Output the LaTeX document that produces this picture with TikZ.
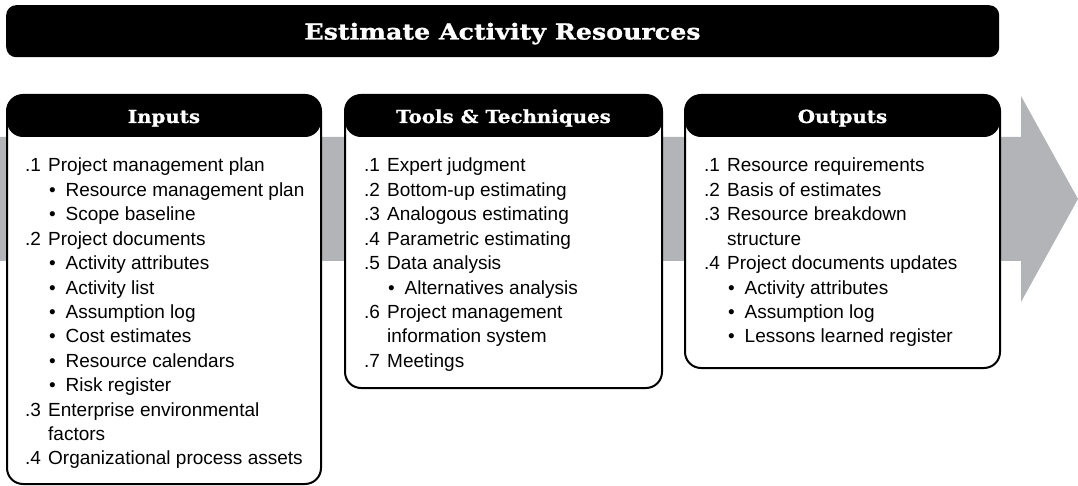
\documentclass[tikz,border=0pt]{standalone}
\usepackage{fontspec}
\setmainfont{Liberation Sans}
\newfontfamily\slabtitle{DejaVu Serif}[FakeStretch=1.15,BoldFeatures={FakeBold=1.2}]
\newfontfamily\slabhdr{DejaVu Serif}[FakeStretch=1.1,BoldFeatures={FakeBold=1}]
\definecolor{arrowgray}{RGB}{178,180,183}
\newcommand\mkline[3]{\ifnum#1=0 \makebox[23pt][l]{#2}#3\else\ifnum#1=1 \hspace*{24pt}\makebox[16.5pt][l]{\textbullet}#3\else\hspace*{23pt}#3\fi\fi}
\tikzset{
  panel/.style={draw=black, line width=2pt, fill=white, rounded corners=16pt,
    inner sep=0pt, outer sep=0pt, anchor=north west,
    path picture={\fill[black] (path picture bounding box.north west) rectangle ([yshift=-42pt]path picture bounding box.north east);}},
  hdr/.style={text=white, font=\slabhdr\bfseries\fontsize{18}{22}\selectfont, anchor=base, inner sep=0pt},
  txt/.style={font=\fontsize{19}{24.4}\selectfont, anchor=base west, inner sep=0pt},
}
\begin{document}
\begin{tikzpicture}[x=1pt,y=-1pt]
\useasboundingbox (0,0) rectangle (1078,486);
% gray flow arrow
\fill[arrowgray] (0,137) -- (1021,137) -- (1021,96) -- (1078,199) -- (1021,302) -- (1021,261) -- (0,261) -- cycle;
% title bar
\node[fill=black, rounded corners=10pt, minimum width=993pt, minimum height=52pt, inner sep=0pt, anchor=north west] (title) at (6,5) {};
\node[text=white, font=\slabtitle\bfseries\fontsize{22}{26}\selectfont, anchor=base, inner sep=0pt] (titletext) at (502.5,39.5) {Estimate Activity Resources};
% panels
\node[panel, minimum width=314pt, minimum height=389pt] (inbox) at (7,95) {};
\node[panel, minimum width=317pt, minimum height=293pt] (toolbox) at (345,95) {};
\node[panel, minimum width=315pt, minimum height=273pt] (outbox) at (685,95) {};
\node[hdr] (inh) at (164,123) {Inputs};
\node[hdr] (toolh) at (503.5,123) {Tools \& Techniques};
\node[hdr] (outh) at (842.5,123) {Outputs};
% inputs
\foreach \k/\a/\b [count=\i from 0] in {
  0/.1/Project management plan,
  1//Resource management plan,
  1//Scope baseline,
  0/.2/Project documents,
  1//Activity attributes,
  1//Activity list,
  1//Assumption log,
  1//Cost estimates,
  1//Resource calendars,
  1//Risk register,
  0/.3/Enterprise environmental,
  2//factors,
  0/.4/Organizational process assets}
  {\node[txt] (in\i) at (25,172+24.4*\i) {\mkline{\k}{\a}{\b}};}
% tools
\foreach \k/\a/\b [count=\i from 0] in {
  0/.1/Expert judgment,
  0/.2/Bottom-up estimating,
  0/.3/Analogous estimating,
  0/.4/Parametric estimating,
  0/.5/Data analysis,
  1//Alternatives analysis,
  0/.6/Project management,
  2//information system,
  0/.7/Meetings}
  {\node[txt] (tt\i) at (364,172+24.4*\i) {\mkline{\k}{\a}{\b}};}
% outputs
\foreach \k/\a/\b [count=\i from 0] in {
  0/.1/Resource requirements,
  0/.2/Basis of estimates,
  0/.3/Resource breakdown,
  2//structure,
  0/.4/Project documents updates,
  1//Activity attributes,
  1//Assumption log,
  1//Lessons learned register}
  {\node[txt] (out\i) at (704,172+24.4*\i) {\mkline{\k}{\a}{\b}};}
\end{tikzpicture}
\end{document}
